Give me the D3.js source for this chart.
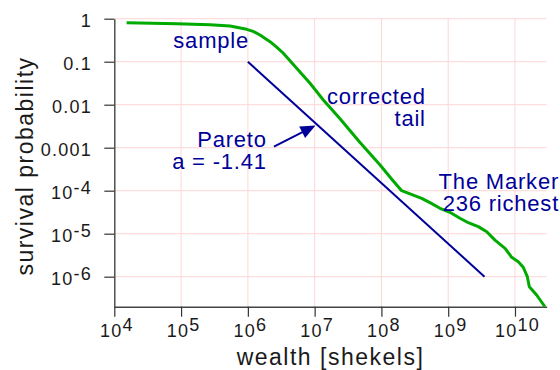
<!DOCTYPE html>
<html><head><meta charset="utf-8">
<script src="https://cdn.jsdelivr.net/npm/d3@7"></script>
<style>
body{margin:0;background:#fff}
svg{display:block}
text{font-family:"Liberation Sans",Arial,sans-serif}
</style>
</head><body>
<svg id="chart" width="560" height="370"></svg>
<script>
// ---- data ----
const xTickValues = [1e4, 1e5, 1e6, 1e7, 1e8, 1e9, 1e10];
const xTickLabels = [["10","4"],["10","5"],["10","6"],["10","7"],["10","8"],["10","9"],["10","10"]];
const yTickValues = [1, 0.1, 0.01, 0.001, 1e-4, 1e-5, 1e-6];
const yTickLabels = [["1",""],["0.1",""],["0.01",""],["0.001",""],["10","-4"],["10","-5"],["10","-6"]];

// sample survival curve (wealth in shekels, survival probability)
const sampleWealth = [1.53e4, 8.6e4, 2.71e5, 5.41e5, 9.6e5, 1.20e6, 1.52e6, 2.15e6, 2.70e6, 3.40e6, 5.38e6, 8.53e6, 1.35e7, 2.40e7, 4.78e7, 9.55e7, 1.43e8, 2.01e8, 2.68e8, 4.01e8, 5.33e8, 7.53e8, 1.06e9, 1.50e9, 2.0e9, 2.82e9, 3.78e9, 5.02e9, 7.10e9, 8.93e9, 1.12e10, 1.33e10, 1.53e10, 1.64e10, 2.11e10, 2.81e10];
const sampleProb   = [0.807, 0.766, 0.724, 0.676, 0.566, 0.509, 0.418, 0.292, 0.219, 0.157, 0.0703, 0.0315, 0.0129, 0.00470, 0.00132, 3.96e-4, 1.85e-4, 1.0e-4, 8.4e-5, 6.65e-5, 5.26e-5, 3.90e-5, 3.15e-5, 2.28e-5, 1.80e-5, 1.46e-5, 1.11e-5, 7.1e-6, 4.57e-6, 2.82e-6, 2.23e-6, 1.66e-6, 1.0e-6, 5.85e-7, 3.75e-7, 2.0e-7];

// Pareto fit line
const paretoWealth = [1e6, 3.5e9];
const paretoProb = [0.1, 1.0e-6];

// ---- layout ----
const W = 560, H = 370;
const m = {left: 114.3, top: 18.7, right: 13.3, bottom: 63.3};
const x = d3.scaleLog().domain([1e4, Math.pow(10, 10.475)]).range([m.left, W - m.right]);
const y = d3.scaleLog().domain([Math.pow(10, -6.698), 1]).range([H - m.bottom, m.top]);

const svg = d3.select("#chart");
const FONT = '"Liberation Sans", Arial, sans-serif';

// grid
const grid = svg.append("g").attr("stroke", "#ffd6d6").attr("stroke-width", 1);
grid.selectAll("line.v").data(xTickValues.slice(1)).join("line")
  .attr("x1", d => x(d)).attr("x2", d => x(d))
  .attr("y1", m.top).attr("y2", H - m.bottom);
grid.selectAll("line.h").data(yTickValues).join("line")
  .attr("x1", m.left).attr("x2", W - m.right)
  .attr("y1", d => y(d)).attr("y2", d => y(d));

// axes
const xAxis = svg.append("g").attr("transform", `translate(0,${H - m.bottom})`)
  .call(d3.axisBottom(x).tickValues(xTickValues).tickSize(10).tickSizeOuter(0).tickFormat(() => ""));
const yAxis = svg.append("g").attr("transform", `translate(${m.left},0)`)
  .call(d3.axisLeft(y).tickValues(yTickValues).tickSize(10).tickSizeOuter(0).tickFormat(() => ""));

[xAxis, yAxis].forEach(g => {
  g.select(".domain").attr("stroke", "#444").attr("stroke-width", 1.4);
  g.selectAll(".tick line").attr("stroke", "#333").attr("stroke-width", 1.2);
  g.attr("font-family", FONT).attr("font-size", 18);
});

xAxis.selectAll(".tick text").each(function(d, i) {
  const t = d3.select(this);
  const lab = xTickLabels[i];
  t.text(null).attr("y", 30).attr("dy", 0).attr("x", 2)
    .attr("fill", "#1a1a1a").attr("letter-spacing", 1.26).attr("text-anchor", "middle");
  t.append("tspan").text(lab[0]);
  t.append("tspan").attr("dy", -6).text(lab[1]);
});
yAxis.selectAll(".tick text").each(function(d, i) {
  const t = d3.select(this);
  const lab = yTickLabels[i];
  t.text(null).attr("x", -22.3).attr("y", 7.6).attr("dy", 0)
    .attr("fill", "#1a1a1a").attr("letter-spacing", 1.26).attr("text-anchor", "end");
  t.append("tspan").text(lab[0]);
  if (lab[1]) t.append("tspan").attr("dy", -4.5).text(lab[1]);
});

// axis titles
svg.append("text").attr("x", 330.5).attr("y", 365).attr("text-anchor", "middle")
  .attr("font-size", 23).attr("letter-spacing", 1.5).attr("fill", "#1a1a1a")
  .text("wealth [shekels]");
svg.append("text").attr("transform", "translate(33.3,166) rotate(-90)").attr("text-anchor", "middle")
  .attr("font-size", 23).attr("letter-spacing", 1.5).attr("fill", "#1a1a1a")
  .text("survival probability");

// Pareto line
const BLUE = "#000099";
const paretoData = paretoWealth.map((w, i) => [w, paretoProb[i]]);
svg.append("path").datum(paretoData)
  .attr("d", d3.line().x(d => x(d[0])).y(d => y(d[1])))
  .attr("fill", "none").attr("stroke", BLUE).attr("stroke-width", 2);

// sample curve
const sampleData = sampleWealth.map((w, i) => [w, sampleProb[i]]);
svg.append("path").datum(sampleData)
  .attr("d", d3.line().x(d => x(d[0])).y(d => y(d[1])))
  .attr("fill", "none").attr("stroke", "#00aa00").attr("stroke-width", 3)
  .attr("stroke-linejoin", "round");

// arrow (data coordinates)
const arrowTail = [Math.pow(10, 6.391), Math.pow(10, -2.977)];
const arrowTip = [Math.pow(10, 7.013), Math.pow(10, -2.484)];
{
  const x0 = x(arrowTail[0]), y0 = y(arrowTail[1]);
  const x1 = x(arrowTip[0]), y1 = y(arrowTip[1]);
  const dx = x1 - x0, dy = y1 - y0, L = Math.hypot(dx, dy);
  const ux = dx / L, uy = dy / L;
  const hl = 15, hw = 6.5;
  const bx = x1 - ux * hl, by = y1 - uy * hl;
  svg.append("line").attr("x1", x0).attr("y1", y0).attr("x2", bx + ux * 2).attr("y2", by + uy * 2)
    .attr("stroke", BLUE).attr("stroke-width", 2);
  svg.append("path")
    .attr("d", `M${x1},${y1}L${bx - uy * hw},${by + ux * hw}L${bx + uy * hw},${by - ux * hw}Z`)
    .attr("fill", BLUE);
}

// annotations (multi-line notes as one text element with tspans)
const notes = [
  {lines: ["sample"], x: 173.3, y: 47.7, anchor: "start", lh: 0},
  {lines: ["corrected", "tail"], x: 425.8, y: 103.7, anchor: "end", lh: 22.6},
  {lines: ["Pareto", "a = -1.41"], x: 266.8, y: 146.7, anchor: "end", lh: 22.6},
  {lines: ["The Marker", "236 richest"], x: 559.1, y: 188.8, anchor: "end", lh: 22.6}
];
notes.forEach(n => {
  const t = svg.append("text").attr("x", n.x).attr("y", n.y)
    .attr("text-anchor", n.anchor).attr("font-size", 22).attr("letter-spacing", 0.8)
    .attr("fill", BLUE);
  n.lines.forEach((s, i) => {
    t.append("tspan").attr("x", n.x).attr("dy", i === 0 ? 0 : n.lh).text(s);
  });
});
</script>
</body></html>
